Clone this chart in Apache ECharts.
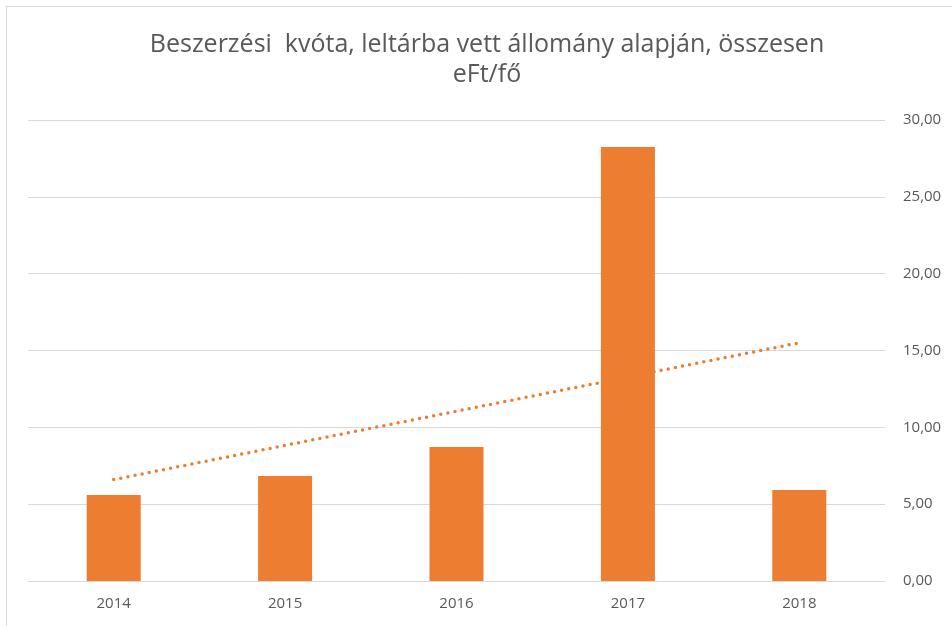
<!DOCTYPE html>
<html>
<head>
<meta charset="utf-8">
<script src="https://cdn.jsdelivr.net/npm/echarts@6/dist/echarts.min.js"></script>
<style>
  body { margin: 0; background: #fff; }
  #wrap { position: relative; width: 952px; height: 626px; overflow: hidden; }
  #frame { position: absolute; left: 6px; top: 6px; width: 1000px; height: 700px;
           border-left: 1px solid #d9d9d9; border-top: 1px solid #d9d9d9; }
  #main { position: absolute; left: 0; top: 0; width: 952px; height: 626px; }
</style>
</head>
<body>
<div id="wrap">
  <div id="frame"></div>
  <div id="main"></div>
</div>
<script>
// adatok
const years = ['2014', '2015', '2016', '2017', '2018'];
const quota = [5.6, 6.83, 8.72, 28.24, 5.92];
// lineáris trendvonal végpontjai
const trendYears = ['2014', '2018'];
const trendValues = [6.6, 15.5];

const orange = '#ED7D31';
const textGray = '#595959';

let chart = echarts.init(document.getElementById('main'));
chart.setOption({
  animation: false,
  title: {
    text: 'Beszerzési  kvóta, leltárba vett állomány alapján, összesen\neFt/fő',
    left: 482,
    textAlign: 'center',
    top: 25,
    textStyle: {
      fontFamily: 'Open Sans',
      fontWeight: 'normal',
      fontSize: 25,
      lineHeight: 30,
      color: textGray
    }
  },
  grid: {
    left: 28,
    right: 67,
    top: 120,
    bottom: 45
  },
  xAxis: {
    type: 'category',
    data: years,
    axisLine: { lineStyle: { color: '#d9d9d9', width: 1 } },
    axisTick: { show: false },
    axisLabel: {
      color: textGray,
      fontFamily: 'Open Sans',
      fontSize: 15,
      margin: 15
    }
  },
  yAxis: {
    type: 'value',
    position: 'right',
    min: 0,
    max: 30,
    interval: 5,
    axisLine: { show: false },
    axisTick: { show: false },
    splitLine: { lineStyle: { color: '#d9d9d9', width: 1 } },
    axisLabel: {
      color: textGray,
      fontFamily: 'Open Sans',
      fontSize: 15,
      margin: 18,
      formatter: function (v) { return v.toFixed(2).replace('.', ','); }
    }
  },
  series: [
    {
      name: 'kvóta',
      type: 'bar',
      data: quota,
      barWidth: 54,
      itemStyle: { color: orange }
    },
    {
      name: 'trend',
      type: 'line',
      data: trendYears.map(function (y, i) { return [y, trendValues[i]]; }),
      symbol: 'none',
      lineStyle: {
        color: orange,
        width: 3.5,
        type: [0, 7.25],
        cap: 'round'
      },
      z: 3
    }
  ]
});
</script>
</body>
</html>
